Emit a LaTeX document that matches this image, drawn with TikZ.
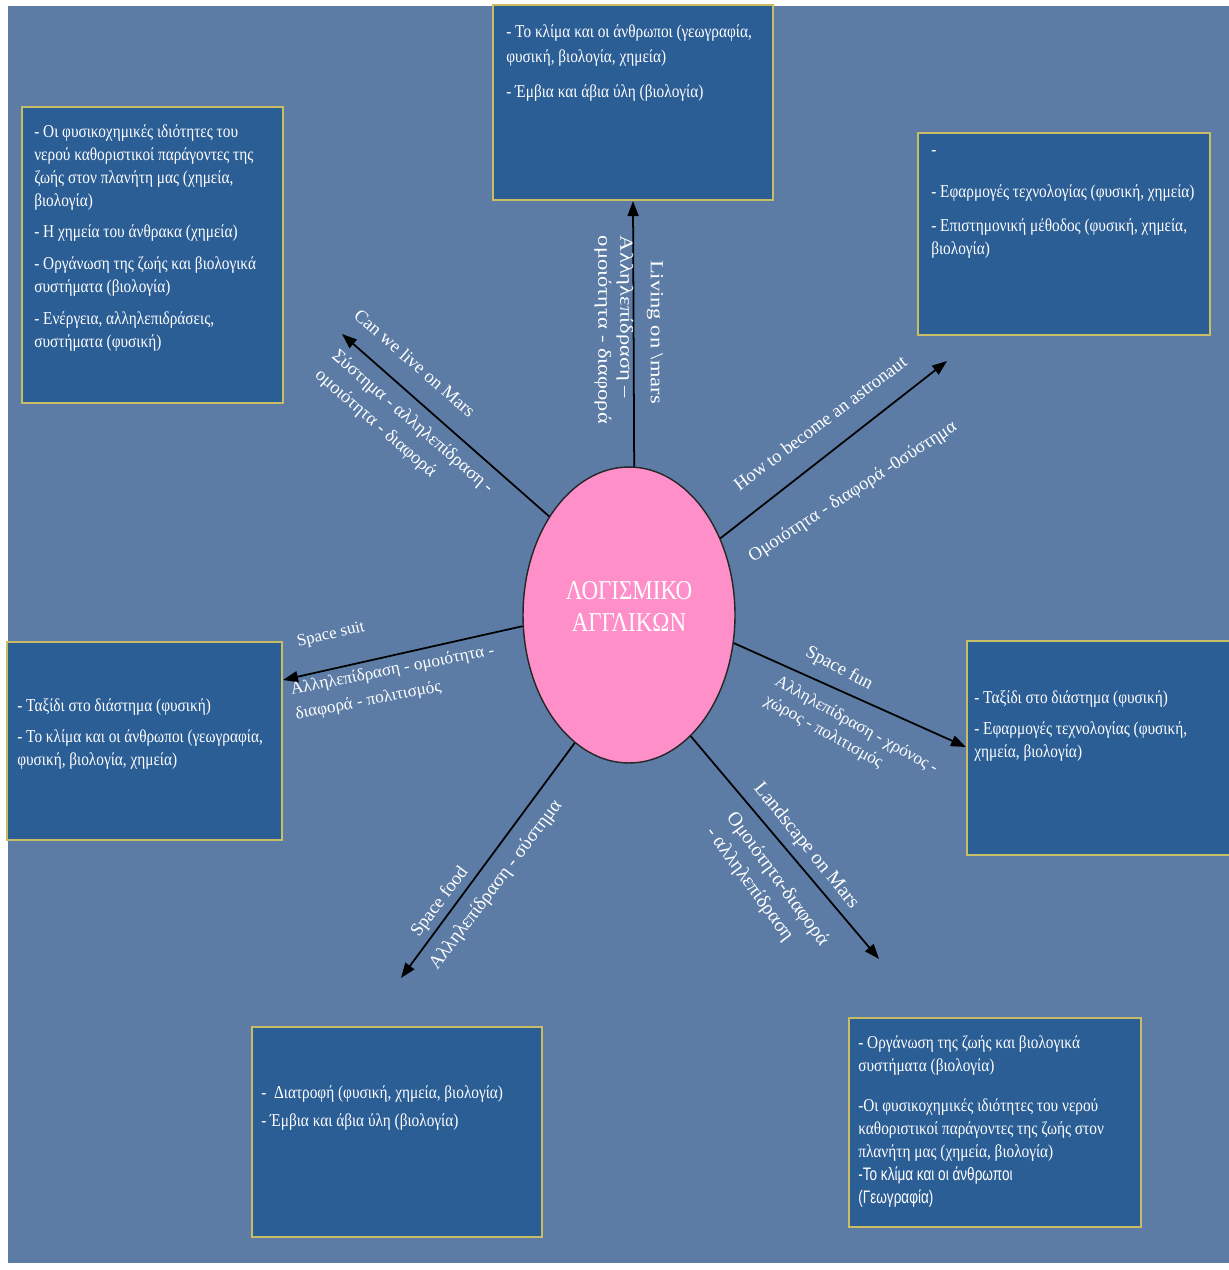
\documentclass[tikz,border=0pt]{standalone}
\usepackage{fontspec}
\setmainfont{Liberation Serif}
\newfontfamily\slidefont{Liberation Serif}[FakeStretch=0.845]
\newfontfamily\slidesans{Liberation Sans}[FakeStretch=0.75]
\newfontfamily\widefont{Liberation Serif}[FakeStretch=1.22]
\usetikzlibrary{positioning,shapes.geometric,arrows.meta}
\definecolor{SlideBlue}{RGB}{92,124,166}
\definecolor{BoxBlue}{RGB}{44,94,150}
\definecolor{BoxEdge}{RGB}{200,188,100}
\definecolor{HubPink}{RGB}{255,143,200}
\tikzset{
  topic/.style={draw=BoxEdge,fill=BoxBlue,line width=1.2pt,inner sep=0pt},
  topictext/.style={text=white,align=left,inner sep=0pt,
    font=\slidefont\fontsize{10.3}{13.1}\selectfont},
  core/.style={ellipse,draw=black!85,fill=HubPink,line width=0.8pt,inner sep=0pt,
    minimum width=4.24cm,minimum height=5.92cm},
  link/.style={draw=black,line width=1pt,-{Triangle[length=0.3cm,width=0.22cm]}},
  tag/.style={text=white,align=left,inner sep=0pt,font=\fontsize{10.5}{14.5}\selectfont},
}

\begin{document}
\begin{tikzpicture}[x=0.02cm,y=-0.02cm]
\useasboundingbox (0,0) rectangle (1229,1270);
\fill[SlideBlue] (8,6) rectangle (1229,1263);

\node[topic,minimum width=5.6cm,minimum height=3.9cm] (topbox) at (633,102.5) {};
\node[topic,minimum width=5.22cm,minimum height=5.92cm] (tlbox) at (152.5,255) {};
\node[topic,minimum width=5.84cm,minimum height=4.04cm] (trbox) at (1064,234) {};
\node[topic,minimum width=5.5cm,minimum height=3.96cm] (lbox) at (144.5,741) {};
\node[topic,minimum width=5.3cm,minimum height=4.28cm] (rbox) at (1099.5,748) {};
\node[topic,minimum width=5.8cm,minimum height=4.2cm] (blbox) at (397,1132) {};
\node[topic,minimum width=5.84cm,minimum height=4.18cm] (brbox) at (995,1122.5) {};

\node[topictext,font=\slidefont\fontsize{10.3}{14.6}\selectfont,
  below right=0.4cm and 0.28cm of topbox.north west] (toptext) {%
- Το κλίμα και οι άνθρωποι (γεωγραφία,\\
φυσική, βιολογία, χημεία)\\[5pt]
- Έμβια και άβια ύλη (βιολογία)};
\node[topictext,below right=0.36cm and 0.26cm of tlbox.north west] (tltext) {%
- Οι φυσικοχημικές ιδιότητες του\\
νερού καθοριστικοί παράγοντες της\\
ζωής στον πλανήτη μας (χημεία,\\
βιολογία)\\[5pt]
- Η χημεία του άνθρακα (χημεία)\\[5pt]
- Οργάνωση της ζωής και βιολογικά\\
συστήματα (βιολογία)\\[5pt]
- Ενέργεια, αλληλεπιδράσεις,\\
συστήματα (φυσική)};
\node[topictext,below right=0.36cm and 0.28cm of trbox.north west] (trtext) {%
-\\[11pt]
- Εφαρμογές τεχνολογίας (φυσική, χημεία)\\[6pt]
- Επιστημονική μέθοδος (φυσική, χημεία,\\
βιολογία)};
\node[topictext,below right=1.14cm and 0.22cm of lbox.north west] (ltext) {%
- Ταξίδι στο διάστημα (φυσική)\\[5pt]
- Το κλίμα και οι άνθρωποι (γεωγραφία,\\
φυσική, βιολογία, χημεία)};
\node[topictext,below right=1.0cm and 0.16cm of rbox.north west] (rtext) {%
- Ταξίδι στο διάστημα (φυσική)\\[5pt]
- Εφαρμογές τεχνολογίας (φυσική,\\
χημεία, βιολογία)};
\node[topictext,below right=1.18cm and 0.2cm of blbox.north west] (bltext) {%
-~~Διατροφή (φυσική, χημεία, βιολογία)\\[3pt]
- Έμβια και άβια ύλη (βιολογία)};
\node[topictext,below right=0.36cm and 0.2cm of brbox.north west] (brtext) {%
- Οργάνωση της ζωής και βιολογικά\\
συστήματα (βιολογία)\\[10pt]
-Οι φυσικοχημικές ιδιότητες του νερού\\
καθοριστικοί παράγοντες της ζωής στον\\
πλανήτη μας (χημεία, βιολογία)\\
{\slidesans -Το κλίμα και οι άνθρωποι}\\
{\slidesans (Γεωγραφία)}};

\node[core] (logismiko) at (629,615) {};
\node[text=white,align=center,inner sep=0pt,font=\slidefont\fontsize{15.5}{18.2}\selectfont]
  (logotitle) at (629,606) {ΛΟΓΙΣΜΙΚΟ\\ΑΓΓΛΙΚΩΝ};

\coordinate (tipnw) at (342,334);
\coordinate (tipne) at (947,361);
\coordinate (tipw) at (283,680);
\coordinate (tipe) at (966,747);
\coordinate (tipsw) at (401,978);
\coordinate (tipse) at (879,959);

\draw[link] (logismiko.88) -- (topbox.south);
\draw[link] (logismiko.129) -- (tipnw);
\draw[link] (logismiko.40) -- (tipne);
\draw[link] (logismiko.186) -- (tipw);
\draw[link] (logismiko.-15) -- (tipe);
\draw[link] (logismiko.247) -- (tipsw);
\draw[link] (logismiko.297) -- (tipse);

\node[tag,rotate=-90,font=\widefont\fontsize{10.5}{12.5}\selectfont] (livingmars) at (655,332) {Living on \textbackslash mars};
\node[tag,rotate=-90,font=\widefont\fontsize{10.5}{12.5}\selectfont] (livingkeys) at (614,330) {Αλληλεπίδραση –\\ομοιότητα - διαφορά};
\node[tag,rotate=-41] (livemars) at (415,363) {Can we live on Mars};
\node[tag,rotate=-41] (livekeys) at (404,432) {Σύστημα - αλληλεπίδραση -\\ομοιότητα - διαφορά};
\node[tag,rotate=37] (astronaut) at (820,423) {How to become an astronaut};
\node[tag,rotate=33] (astrokeys) at (853,492) {Ομοιότητα - διαφορά -0σύστημα};
\node[tag,rotate=13,font=\fontsize{9.6}{14.5}\selectfont] (suit) at (331,635) {Space suit};
\node[tag,rotate=11,font=\fontsize{9.8}{14.5}\selectfont] (suitkeys) at (395,683) {Αλληλεπίδραση - ομοιότητα -\\διαφορά - πολιτισμός};
\node[tag,rotate=-28] (fun) at (839,669) {Space fun};
\node[tag,rotate=-29,font=\fontsize{9.8}{12.4}\selectfont] (funkeys) at (851,735) {Αλληλεπίδραση - χρόνος -\\χώρος - πολιτισμός};
\node[tag,rotate=53] (food) at (440,902) {Space food};
\node[tag,rotate=53,font=\fontsize{10.9}{14.5}\selectfont] (foodkeys) at (496,885) {Αλληλεπίδραση - σύστημα};
\node[tag,rotate=-51,font=\fontsize{11.3}{14.5}\selectfont] (landscape) at (806,846) {Landscape on Mars};
\node[tag,rotate=-54,font=\fontsize{11.3}{14.5}\selectfont] (landkeys) at (767,887) {Ομοιότητα-διαφορά\\- αλληλεπίδραση};
\end{tikzpicture}
\end{document}
